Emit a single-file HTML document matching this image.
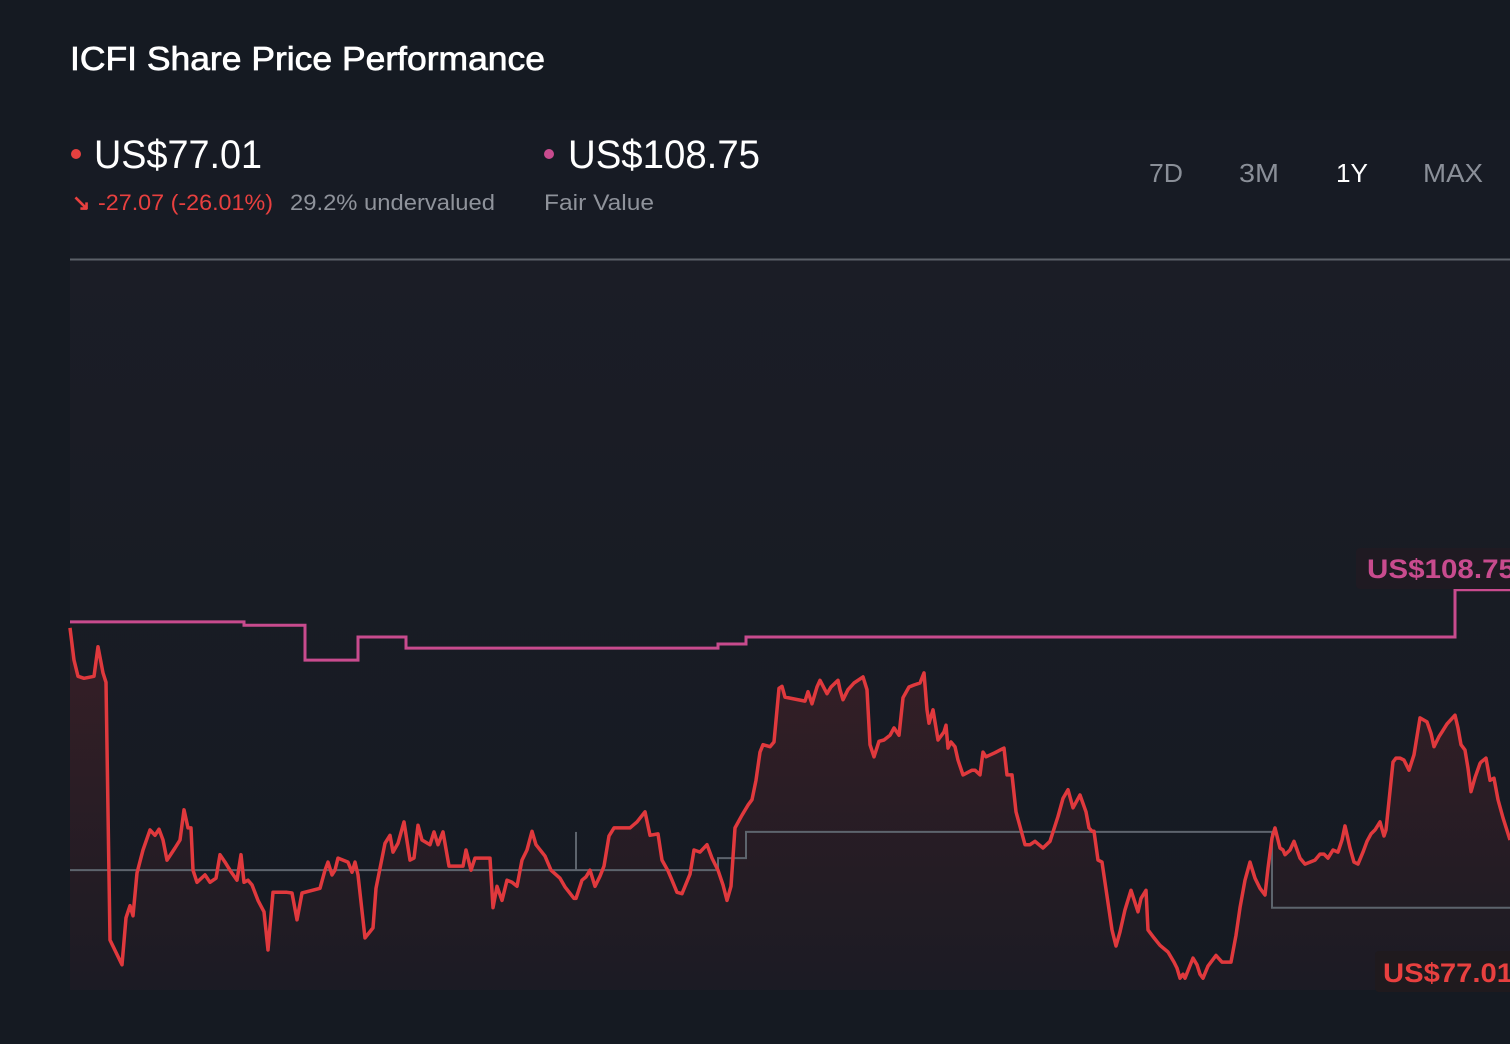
<!DOCTYPE html>
<html><head><meta charset="utf-8"><style>
html,body{margin:0;padding:0;background:#151a22;}
svg{display:block;font-family:"Liberation Sans",sans-serif;}
</style></head><body>
<svg id="chart" width="1510" height="1044" viewBox="0 0 1510 1044">
<defs>
<linearGradient id="bgG" x1="0" y1="0" x2="0" y2="1"><stop offset="0" stop-color="#1b1d26"/><stop offset="1" stop-color="#151a22"/></linearGradient>
<linearGradient id="areaG" x1="0" y1="0" x2="0" y2="1"><stop offset="0" stop-color="#3a1f26"/><stop offset="1" stop-color="#1c1b24"/></linearGradient>
</defs>
<rect x="0" y="0" width="1510" height="1044" fill="#151a22"/>
<rect x="70" y="120" width="1440" height="140" fill="#171b24"/>
<rect x="70" y="260" width="1440" height="730" fill="url(#bgG)"/>
<text x="70" y="70" font-size="33" fill="#ffffff" stroke="#ffffff" stroke-width="0.7" textLength="475" lengthAdjust="spacingAndGlyphs">ICFI Share Price Performance</text>
<circle cx="76" cy="154" r="5" fill="#e8403f"/>
<text x="94" y="168" font-size="40" fill="#ffffff" textLength="168" lengthAdjust="spacingAndGlyphs">US$77.01</text>
<text x="72" y="210" font-size="22" font-weight="bold" fill="#e8403f">↘</text>
<text x="98" y="210" font-size="22" fill="#e8403f" textLength="175" lengthAdjust="spacingAndGlyphs">-27.07 (-26.01%)</text>
<text x="290" y="210" font-size="22" fill="#8f939b" textLength="205" lengthAdjust="spacingAndGlyphs">29.2% undervalued</text>
<circle cx="549" cy="154" r="5" fill="#c84b8e"/>
<text x="568" y="168" font-size="40" fill="#ffffff" textLength="192" lengthAdjust="spacingAndGlyphs">US$108.75</text>
<text x="544" y="210" font-size="22" fill="#8f939b" textLength="110" lengthAdjust="spacingAndGlyphs">Fair Value</text>
<text x="1149" y="182" font-size="26" fill="#8a8f98" textLength="34" lengthAdjust="spacingAndGlyphs">7D</text>
<text x="1239" y="182" font-size="26" fill="#8a8f98" textLength="40" lengthAdjust="spacingAndGlyphs">3M</text>
<text x="1336" y="182" font-size="26" fill="#ffffff" textLength="32" lengthAdjust="spacingAndGlyphs">1Y</text>
<text x="1423" y="182" font-size="26" fill="#8a8f98" textLength="60" lengthAdjust="spacingAndGlyphs">MAX</text>
<line x1="70" y1="259.5" x2="1510" y2="259.5" stroke="#5b6068" stroke-width="2"/>
<g id="marks"></g>
<rect x="1356" y="548" width="160" height="41" rx="4" fill="#1f1a22"/>
<text x="1367" y="578" font-size="27" font-weight="bold" fill="#c84b8e" textLength="148" lengthAdjust="spacingAndGlyphs">US$108.75</text>
<rect x="1375" y="951" width="140" height="41" rx="4" fill="#1f1a1e"/>
<text x="1383" y="982" font-size="27" font-weight="bold" fill="#e8403f" textLength="130" lengthAdjust="spacingAndGlyphs">US$77.01</text>
</svg>
<script>
// time index (0..1440 over the year) and price (US$)
const priceT = [0,4,8,14,24,28,33,36,40,52,56,60,63,67,73,80,85,89,93,97,105,110,114,118,121,123,127,135,140,146,150,155,160,167,171,174,178,182,188,194,198,203,207,212,217,222,227,232,250,255,258,262,265,268,278,282,285,288,295,303,306,315,320,323,328,334,340,344,348,352,360,364,368,373,379,385,393,396,401,405,412,420,423,427,432,437,442,447,452,457,462,466,475,481,490,495,504,506,512,516,520,525,530,534,539,544,560,567,575,580,588,592,598,602,607,612,620,624,630,637,642,648,653,657,661,665,672,678,682,686,690,693,700,704,707,709,712,715,725,735,738,742,747,750,757,761,768,770,773,778,784,793,797,800,804,809,814,820,824,829,833,839,844,850,854,857,859,863,868,874,876,878,881,885,888,893,902,905,910,913,916,925,930,934,937,942,946,955,960,965,969,973,980,988,993,998,1003,1010,1016,1019,1022,1024,1028,1032,1042,1046,1050,1055,1061,1068,1071,1076,1078,1084,1090,1098,1104,1107,1110,1113,1115,1119,1123,1127,1130,1133,1138,1146,1152,1155,1161,1166,1170,1175,1180,1185,1190,1195,1198,1202,1205,1210,1213,1215,1220,1224,1230,1235,1240,1245,1250,1254,1258,1263,1268,1272,1275,1280,1284,1288,1293,1297,1301,1305,1310,1314,1316,1323,1326,1330,1334,1339,1344,1350,1357,1361,1364,1369,1372,1377,1385,1388,1391,1395,1398,1401,1405,1410,1411,1416,1420,1424,1428,1433,1440];
const priceV = [110.1,105.3,102.9,102.6,102.9,107.3,103.4,102.0,63.6,59.9,66.9,68.7,67.2,73.6,77.0,80.0,79.2,80.1,78.5,75.5,77.3,78.5,83.0,80.3,80.3,74.0,72.2,73.3,72.2,72.8,76.3,75.2,74.0,72.5,76.3,72.2,72.5,71.8,69.5,67.8,62.1,70.7,70.7,70.7,70.7,70.6,66.6,70.6,71.3,74.0,75.2,73.3,74.0,75.8,75.2,73.7,75.2,73.3,63.9,65.4,71.3,78.0,79.2,76.7,78.0,81.2,75.5,75.8,80.7,78.5,77.8,79.7,77.8,79.7,74.6,74.6,74.6,77.0,74.0,75.8,75.8,75.8,68.4,71.6,69.5,72.5,72.2,71.6,75.5,77.0,79.8,77.8,76.1,74.0,72.8,71.5,69.8,69.8,72.5,73.0,74.0,71.6,73.1,74.6,79.1,80.3,80.3,81.2,82.7,79.2,79.4,75.5,73.9,72.5,70.7,70.5,73.4,77.0,76.7,77.8,75.8,74.0,71.8,69.5,71.6,80.3,82.2,83.7,84.5,87.4,91.6,92.7,92.4,93.1,97.9,101.1,101.4,99.8,99.5,99.2,100.6,98.8,101.3,102.3,100.3,101.3,102.3,100.9,99.4,100.9,101.9,102.8,100.9,92.7,90.9,93.2,93.4,94.1,95.2,94.1,99.7,101.3,101.6,101.9,103.4,97.9,95.9,97.9,93.4,94.6,95.6,92.2,93.1,92.4,90.4,88.2,88.9,88.9,88.2,91.6,90.9,91.5,91.9,92.2,88.2,88.2,82.7,77.8,77.8,78.3,77.8,77.3,78.3,82.0,84.7,86.0,83.3,85.2,82.7,80.3,79.8,79.8,75.5,75.2,65.1,62.7,64.8,68.1,71.0,67.8,69.8,71.0,65.1,63.9,62.8,61.8,60.3,59.4,57.9,58.5,57.9,59.4,60.9,59.9,58.5,57.9,59.7,61.3,60.3,60.3,60.3,64.3,68.4,72.5,75.2,72.8,71.3,70.3,74.3,78.8,80.3,77.3,77.0,76.3,77.0,78.3,75.8,74.9,75.2,75.5,76.4,76.4,75.8,77.0,76.7,78.5,80.6,77.3,75.2,74.9,76.7,78.3,79.4,80.0,81.2,79.1,80.0,90.1,90.7,90.7,90.4,88.9,91.2,96.7,96.1,94.4,92.4,93.9,94.6,95.8,97.1,95.2,92.7,91.9,89.2,85.7,87.8,89.9,90.1,90.7,87.4,87.7,84.5,81.8,78.5,77.6,77.0];
// fair value steps: start time index and value
const fairT = [0,174,235,288,336,648,676,1385];
const fairV = [111.0,110.5,105.3,108.75,107.1,107.7,108.75,115.8];
const fairEnd = 1440;
// analyst/other reference (gray) step line
const refT = [0,648,676,1202];
const refV = [74.0,75.8,79.7,68.4];
const refMarkT = 506;
const refMarkV = [79.7,74.0];

const X0=70, Y_REF=637, V_REF=108.75, K=6.71, Y_BASE=990;
function xS(t){return X0+t;}
function yS(v){return Y_REF+(V_REF-v)*K;}
const NS='http://www.w3.org/2000/svg';
const g=document.getElementById('marks');
function mk(tag,attrs){const e=document.createElementNS(NS,tag);for(const k in attrs)e.setAttribute(k,attrs[k]);g.appendChild(e);return e;}

let pts=priceT.map((t,i)=>xS(t).toFixed(1)+','+yS(priceV[i]).toFixed(1));
const area=mk('path',{d:'M'+xS(priceT[0])+','+Y_BASE+' L'+pts.join(' L')+' L'+xS(priceT[priceT.length-1])+','+Y_BASE+' Z',fill:'url(#areaG)',opacity:'0.9'});



let rd='';
refT.forEach((t,i)=>{const x=xS(t),y=yS(refV[i]);rd+=(i===0?'M':'L')+x+','+y+' ';const nx=i<refT.length-1?xS(refT[i+1]):xS(fairEnd);rd+='L'+nx+','+y+' ';});
const ref=mk('path',{d:rd,fill:'none',stroke:'#5d646d','stroke-width':'2'});


const mark=mk('line',{x1:xS(refMarkT),x2:xS(refMarkT),y1:yS(refMarkV[0]),y2:yS(refMarkV[1]),stroke:'#5d646d','stroke-width':'2'});



let fd='';
fairT.forEach((t,i)=>{const x=xS(t),y=yS(fairV[i]);fd+=(i===0?'M':'L')+x+','+y+' ';const nx=i<fairT.length-1?xS(fairT[i+1]):xS(fairEnd);fd+='L'+nx+','+y+' ';});
const fair=mk('path',{d:fd,fill:'none',stroke:'#c84b8e','stroke-width':'3'});



const line=mk('polyline',{points:pts.join(' '),fill:'none',stroke:'#e0393d','stroke-width':'3.5','stroke-linejoin':'round'});


</script>
</body></html>
